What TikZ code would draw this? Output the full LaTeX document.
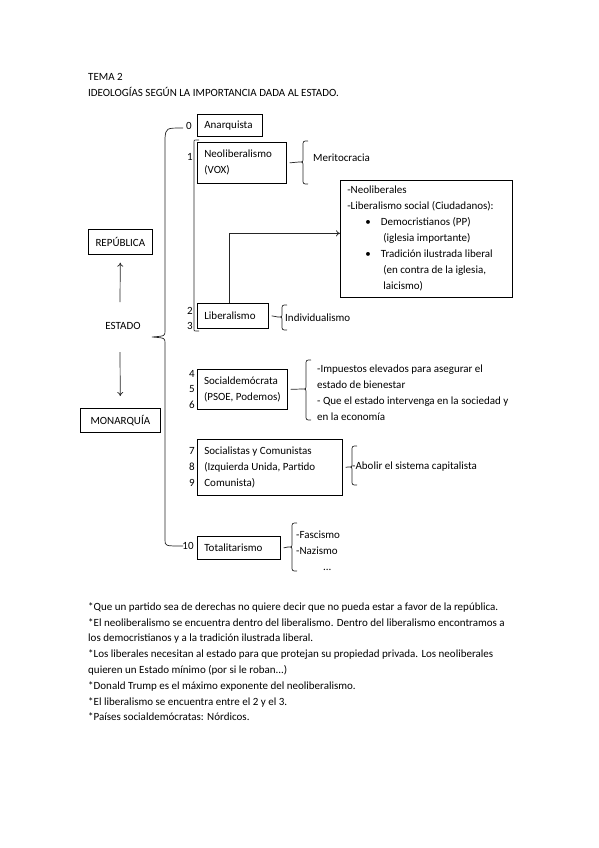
\documentclass[tikz,border=0pt]{standalone}
\usepackage{fontspec}
\setmainfont{Carlito}
\usetikzlibrary{arrows.meta}
\newcommand\wbrace[4]{% x, top, mid, bottom
  \draw[ln] (#1+5,#2) .. controls (#1,#2) .. (#1,#2+5) -- (#1,#3-4)
    .. controls (#1,#3) .. (#1-4,#3) .. controls (#1,#3) .. (#1,#3+4)
    -- (#1,#4-5) .. controls (#1,#4) .. (#1+5,#4);}
\begin{document}
\begin{tikzpicture}[x=1pt,y=-1pt,
  font=\fontsize{11}{16}\selectfont,
  ln/.style={line width=0.7pt, black!85},
  box/.style={draw, line width=0.7pt, anchor=north west, inner xsep=7pt, inner ysep=0pt, align=flush left},
  txt/.style={anchor=base west, inner sep=0pt},
  num/.style={anchor=base, inner sep=0pt},
  arr/.style={ln, -{To[length=4pt,width=6pt]}}]
\useasboundingbox (0,0) rectangle (599,848);
\fill[white] (0,0) rectangle (599,848);

% title
\node[txt] (t1) at (88,81) {TEMA 2};
\node[txt] (t2) at (88,97) {IDEOLOGÍAS SEGÚN LA IMPORTANCIA DADA AL ESTADO.};

% left column
\node[box, minimum width=64pt, minimum height=25pt, align=center, inner xsep=2pt] (rep) at (88,229) {REPÚBLICA};
\node[box, minimum width=80pt, minimum height=24pt, align=center, inner xsep=2pt] (mon) at (80,408) {MONARQUÍA};
\node[inner sep=0pt] (est) at (123,326) {ESTADO};
\coordinate (ua) at (120,302);
\coordinate (da) at (120,352);
\draw[arr, shorten >=8pt] (ua) -- (rep.south);
\draw[arr, shorten >=12pt] (da) -- (mon.north);

% big brace
\draw[ln] (183,128) .. controls (166,128) .. (165,138) -- (165,331)
  .. controls (165,336) .. (152,337) .. controls (165,338) .. (165,343)
  -- (165,540) .. controls (165,546) .. (183,546);
% inner bracket for 1-3
\draw[ln] (199,140) -- (196,140) .. controls (194,140) .. (194,142) -- (194,329)
  .. controls (194,331) .. (196,331) -- (199,331);

% boxes
\node[box, minimum width=65pt, minimum height=22pt, text width=51pt] (anar) at (197,114) {Anarquista};
\node[box, minimum width=89pt, minimum height=41pt, text width=75pt] (neo) at (197,142) {Neoliberalismo\\(VOX)};
\node[box, minimum width=71pt, minimum height=25pt, text width=57pt] (lib) at (197,303) {Liberalismo};
\node[box, minimum width=90pt, minimum height=40pt, inner xsep=6pt] (socd) at (197,369) {Socialdemócrata\\(PSOE, Podemos)};
\node[box, minimum width=145pt, minimum height=56pt, text width=131pt] (soc) at (197,439) {Socialistas y Comunistas\\(Izquierda Unida, Partido\\Comunista)};
\node[box, minimum width=83pt, minimum height=23pt, text width=69pt] (tot) at (197,536) {Totalitarismo};
\node[box, minimum width=172pt, minimum height=117pt, text width=158pt] (big) at (340,180) {-Neoliberales\\
-Liberalismo social (Ciudadanos):\\
\hspace*{18pt}\textbullet\hspace{10pt}Democristianos (PP)\\
\hspace*{36pt}(iglesia importante)\\
\hspace*{18pt}\textbullet\hspace{10pt}Tradición ilustrada liberal\\
\hspace*{36pt}(en contra de la iglesia,\\
\hspace*{36pt}laicismo)};

% numbers
\node[num] (n0) at (189,129) {0};
\node[num] (n1) at (190,160) {1};
\node[num] (n2) at (190,314) {2};
\node[num] (n3) at (190,329) {3};
\node[num] (n4) at (192,377) {4};
\node[num] (n5) at (192,392) {5};
\node[num] (n6) at (192,408) {6};
\node[num] (n7) at (192,454) {7};
\node[num] (n8) at (192,470) {8};
\node[num] (n9) at (192,486) {9};
\node[num] (n10) at (188,549) {10};

% arrow liberalismo -> big box
\draw[arr] ([xshift=-4pt]lib.north) |- ([yshift=5.5pt]big.west);

% braces
\wbrace{303}{141}{162}{184}
\coordinate (b1) at (299,162);
\draw[ln] ([xshift=3pt]neo.east) -- (b1);
\node[anchor=west, inner sep=0pt] (mer) at (313,158) {Meritocracia};

\wbrace{282}{305}{317}{330}
\coordinate (b2) at (278,317);
\draw[ln] ([xshift=3pt]lib.east) -- (b2);
\node[anchor=west, inner sep=0pt] (ind) at (285,318) {Individualismo};

\wbrace{306}{360}{389}{420}
\coordinate (b3) at (302,389);
\draw[ln] ([xshift=3pt]socd.east) -- (b3);
\node[anchor=west, inner sep=0pt, align=flush left] (sdt) at (317,393) {-Impuestos elevados para asegurar el\\estado de bienestar\\- Que el estado intervenga en la sociedad y\\en la economía};

\wbrace{352}{446}{467}{485}
\coordinate (b4) at (348,467);
\draw[ln] ([xshift=3pt]soc.east) -- (b4);
\node[anchor=west, inner sep=0pt] (abo) at (352,467) {-Abolir el sistema capitalista};

\wbrace{292}{523}{547}{571}
\coordinate (b5) at (288,547);
\draw[ln] ([xshift=3pt]tot.east) -- (b5);
\node[anchor=west, inner sep=0pt, align=flush left] (fas) at (296,551) {-Fascismo\\-Nazismo\\\hspace*{27pt}...};

% footnotes
\node[txt] (f1) at (88,610) {*Que un partido sea de derechas no quiere decir que no pueda estar a favor de la república.};
\node[txt] (f2) at (88,626) {*El neoliberalismo se encuentra dentro del liberalismo. Dentro del liberalismo encontramos a};
\node[txt] (f3) at (88,641) {los democristianos y a la tradición ilustrada liberal.};
\node[txt] (f4) at (88,657) {*Los liberales necesitan al estado para que protejan su propiedad privada. Los neoliberales};
\node[txt] (f5) at (88,673) {quieren un Estado mínimo (por si le roban...)};
\node[txt] (f6) at (88,689) {*Donald Trump es el máximo exponente del neoliberalismo.};
\node[txt] (f7) at (88,705) {*El liberalismo se encuentra entre el 2 y el 3.};
\node[txt] (f8) at (88,720) {*Países socialdemócratas: Nórdicos.};
\end{tikzpicture}
\end{document}
